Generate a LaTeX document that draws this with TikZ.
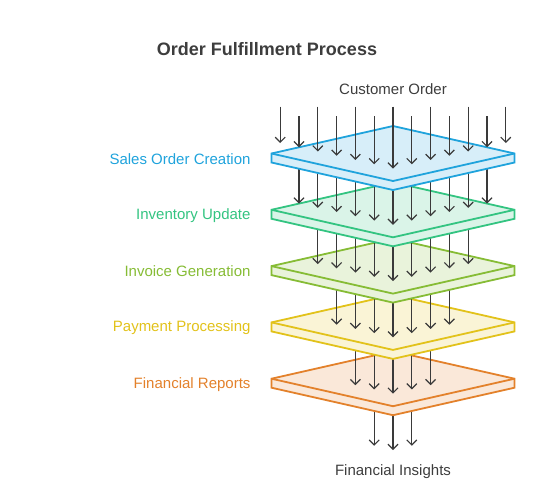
\documentclass[tikz,border=0pt]{standalone}
\usepackage{fontspec}
\setmainfont{Liberation Sans}
\usetikzlibrary{arrows.meta}

\definecolor{salesblue}{HTML}{1FA3DC}
\definecolor{stockgreen}{HTML}{33C481}
\definecolor{invoicelime}{HTML}{86BC35}
\definecolor{payyellow}{HTML}{E2C21A}
\definecolor{reportorange}{HTML}{E3812B}
\definecolor{flowgray}{HTML}{3A3A3A}
\definecolor{textgray}{HTML}{3D3D3D}

\begin{document}
\begin{tikzpicture}[
        x=1pt, y=-1pt,
        flow/.style={
            -{Straight Barb[length=5pt,width=10pt]},
            line width=1.2pt,
            draw=flowgray
        },
        plate/.style={
            line width=1.8pt,
            line join=miter
        },
        steplabel/.style={
            anchor=east,
            font=\fontsize{15}{18}\selectfont
        },
        caption/.style={
            text=textgray,
            font=\fontsize{15}{18}\selectfont
        },
        heading/.style={
            text=textgray,
            font=\fontsize{18}{21}\selectfont\bfseries
        }
    ]
        \useasboundingbox (0,0) rectangle (535,491);

        % Title
        \node[heading] (title) at (267,49) {Order Fulfillment Process};

        % Layers, drawn from the bottom up
        \foreach \i/\n/\col/\txt in {5/1/reportorange/Financial Reports,
                                     4/2/payyellow/Payment Processing,
                                     3/3/invoicelime/Invoice Generation,
                                     2/4/stockgreen/Inventory Update,
                                     1/5/salesblue/Sales Order Creation} {
            \pgfmathsetmacro\yc{153.5+56.3*(\i-1)}
            \pgfmathsetmacro\ynext{\yc+56.3}
            % flow down to the next layer
            \foreach \k in {-\n,...,\n} {
                \draw[flow] ({393+18.8*\k},\yc) -- ({393+18.8*\k},{\ynext+15-4.25*abs(\k)});
            }
            % plate
            \filldraw[plate, draw=\col, fill=\col!18]
                (271.5,\yc) -- (393,{\yc-27.5}) -- (514.5,\yc) -- (514.5,{\yc+9})
                -- (393,{\yc+36.5}) -- (271.5,{\yc+9}) -- cycle;
            \draw[plate, draw=\col] (271.5,\yc) -- (393,{\yc+27.5}) -- (514.5,\yc);
            \node[steplabel, text=\col] (step\i) at (254,{\yc+5.5}) {\txt};
        }

        % Incoming orders
        \foreach \k in {-6,...,6} {
            \pgfmathsetmacro\ys{mod(abs(\k),2)==1 ? 116 : 106.7}
            \draw[flow] ({393+18.8*\k},\ys) -- ({393+18.8*\k},{168.5-4.25*abs(\k)});
        }

        \node[caption] (order) at (393,89) {Customer Order};
        \node[caption] (insights) at (393,471.5) {Financial Insights};
    \end{tikzpicture}
\end{document}
